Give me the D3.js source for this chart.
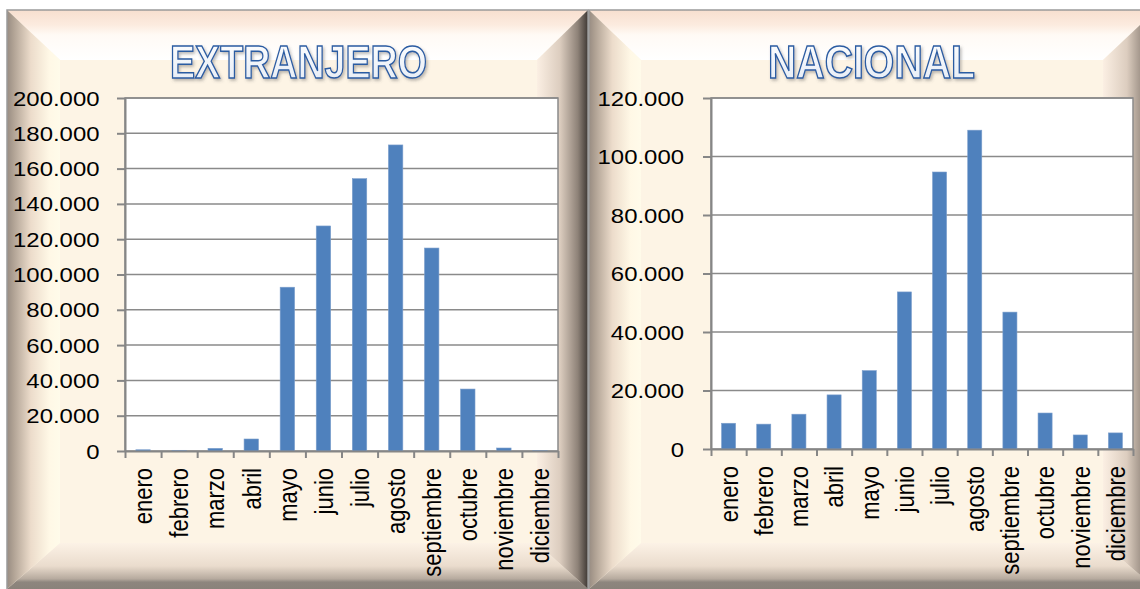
<!DOCTYPE html>
<html><head><meta charset="utf-8">
<script src="https://cdn.jsdelivr.net/npm/d3@7"></script>
<style>html,body{margin:0;padding:0;background:#fff;}svg{display:block;}</style>
</head><body>
<svg id="c" width="1140" height="589"></svg>
<script>
const months = ["enero","febrero","marzo","abril","mayo","junio","julio","agosto","septiembre","octubre","noviembre","diciembre"];
const extranjero = [700, 400, 1500, 6800, 92800, 127500, 154300, 173400, 115000, 35100, 1700, 200];
const nacional = [8800, 8500, 11900, 18500, 26800, 53700, 94700, 109000, 46800, 12300, 4800, 5500];
const ticksExtranjero = [0,20000,40000,60000,80000,100000,120000,140000,160000,180000,200000];
const ticksNacional = [0,20000,40000,60000,80000,100000,120000];
const titles = ["EXTRANJERO","NACIONAL"];

const svg = d3.select("#c");
const fmt = d3.formatLocale({decimal:",",thousands:".",grouping:[3],currency:["","€"]}).format(",");
const defs = svg.append("defs");

function grad(id, x1,y1,x2,y2, stops){
  const g = defs.append("linearGradient").attr("id",id)
    .attr("x1",x1).attr("y1",y1).attr("x2",x2).attr("y2",y2);
  stops.forEach(s=>g.append("stop").attr("offset",s[0]).attr("stop-color",s[1]));
}
grad("gTop",0,0,0,1,[[0,"#f7dfcf"],[0.3,"#fcebdf"],[0.5,"#fffaf5"],[1,"#ffffff"]]);
grad("gLeft",0,0,1,0,[[0,"#988c82"],[0.12,"#b0a294"],[0.45,"#ecdccb"],[0.8,"#fff8e6"],[1,"#fffbea"]]);
grad("gRight",0,0,1,0,[[0,"#fbefe3"],[0.45,"#dccdbf"],[0.8,"#8e8278"],[1,"#3e3834"]]);
grad("gBottom",0,0,0,1,[[0,"#fcf2e6"],[0.5,"#eadccd"],[0.78,"#b6aa9e"],[0.85,"#8e867e"],[1,"#8a827a"]]);
grad("gTitle",0,0,0,1,[[0,"#ffffff"],[1,"#e3eaf4"]]);
const f = defs.append("filter").attr("id","shadow").attr("x","-10%").attr("y","-20%").attr("width","120%").attr("height","150%");
f.append("feDropShadow").attr("dx",1.5).attr("dy",2).attr("stdDeviation",1.5).attr("flood-color","#555").attr("flood-opacity",0.4);

function panel(x0,y0,x1,y1,bL,bT,bR,bB){
  const g = svg.append("g");
  g.append("rect").attr("x",x0).attr("y",y0).attr("width",x1-x0).attr("height",y1-y0).attr("fill","#fdf4e5");
  const P = pts=>pts.map(p=>p.join(",")).join(" ");
  g.append("polygon").attr("points",P([[x0,y0],[x1,y0],[x1-bR,y0+bT],[x0+bL,y0+bT]])).attr("fill","url(#gTop)");
  g.append("polygon").attr("points",P([[x0,y1],[x0+bL,y1-bB],[x1-bR,y1-bB],[x1,y1]])).attr("fill","url(#gBottom)");
  g.append("polygon").attr("points",P([[x0,y0],[x0+bL,y0+bT],[x0+bL,y1-bB],[x0,y1]])).attr("fill","url(#gLeft)");
  g.append("polygon").attr("points",P([[x1,y0],[x1,y1],[x1-bR,y1-bB],[x1-bR,y0+bT]])).attr("fill","url(#gRight)");
  g.append("path").attr("d",`M${x0},${y1}V${y0}H${x1}V${y1}`).attr("fill","none").attr("stroke","#9a9a9a").attr("stroke-width",1.5);
}
panel(7,10,588,589,53,50,51,46);
panel(589,10,1156,589,52,50,53,46);

function chart(cfg){
  const {values, ticks, max, px0, px1, py0, py1, title, tcx, tlen, labGap} = cfg;
  const g = svg.append("g");
  const x = d3.scaleBand().domain(months).range([px0,px1]).paddingInner(0.6).paddingOuter(0.3);
  const xb = d3.scaleLinear().domain([0,months.length]).range([px0,px1]);
  const y = d3.scaleLinear().domain([0,max]).range([py1,py0]);
  g.append("rect").attr("x",px0).attr("y",py0).attr("width",px1-px0).attr("height",py1-py0)
    .attr("fill","#ffffff").attr("stroke","#8a8a8a").attr("stroke-width",1.5);
  g.append("g").selectAll("line").data(ticks.filter(t=>t>0)).join("line")
    .attr("x1",px0).attr("x2",px1).attr("y1",d=>y(d)).attr("y2",d=>y(d))
    .attr("stroke","#8a8a8a").attr("stroke-width",1.5);
  g.append("g").selectAll("rect").data(values).join("rect")
    .attr("x",(d,i)=>x(months[i])).attr("width",x.bandwidth())
    .attr("y",d=>y(d)).attr("height",d=>y(0)-y(d))
    .attr("fill","#4f81bd").attr("stroke","#7d9fcc").attr("stroke-width",0.6);
  const ya = g.append("g").attr("transform",`translate(${px0},0)`)
    .call(d3.axisLeft(y).tickValues(ticks).tickSize(8).tickSizeOuter(0).tickFormat(""));
  ya.selectAll("path,line").attr("stroke","#868686").attr("stroke-width",2);
  const xa = g.append("g").attr("transform",`translate(0,${py1})`)
    .call(d3.axisBottom(xb).tickValues(d3.range(months.length+1)).tickSize(7).tickSizeOuter(0).tickFormat(""));
  xa.selectAll("path,line").attr("stroke","#868686").attr("stroke-width",2);
  g.append("g").selectAll("g").data(ticks).join("g")
    .attr("transform",d=>`translate(${px0-labGap},${y(d)})`)
    .append("text").attr("transform","scale(1.14,1)")
    .attr("text-anchor","end").attr("dy","0.36em")
    .attr("font-family","Liberation Sans, Arial, sans-serif").attr("font-size",21).attr("fill","#000")
    .text(d=>fmt(d));
  g.append("g").selectAll("g").data(months).join("g")
    .attr("transform",d=>`translate(${x(d)+x.bandwidth()/2},${py1+17})`)
    .append("text").attr("transform","scale(1.2,1) rotate(-90)")
    .attr("text-anchor","end").attr("dy","0.35em")
    .attr("font-family","Liberation Sans, Arial, sans-serif").attr("font-size",22).attr("fill","#000")
    .text(d=>d);
  g.append("text").attr("x",tcx).attr("y",78).attr("text-anchor","middle")
    .attr("font-family","Liberation Sans, Arial, sans-serif").attr("font-weight","bold").attr("font-size",46)
    .attr("textLength",tlen).attr("lengthAdjust","spacingAndGlyphs")
    .attr("fill","url(#gTitle)").attr("stroke","#2c5ca2").attr("stroke-width",1.5)
    .attr("filter","url(#shadow)").text(title);
}
chart({values:extranjero, ticks:ticksExtranjero, max:200000, px0:125, px1:558, py0:98, py1:451, title:titles[0], tcx:298.5, tlen:257, labGap:25.5});
chart({values:nacional, ticks:ticksNacional, max:120000, px0:711, px1:1133, py0:98, py1:449, title:titles[1], tcx:871.5, tlen:207, labGap:27});
</script>
</body></html>
